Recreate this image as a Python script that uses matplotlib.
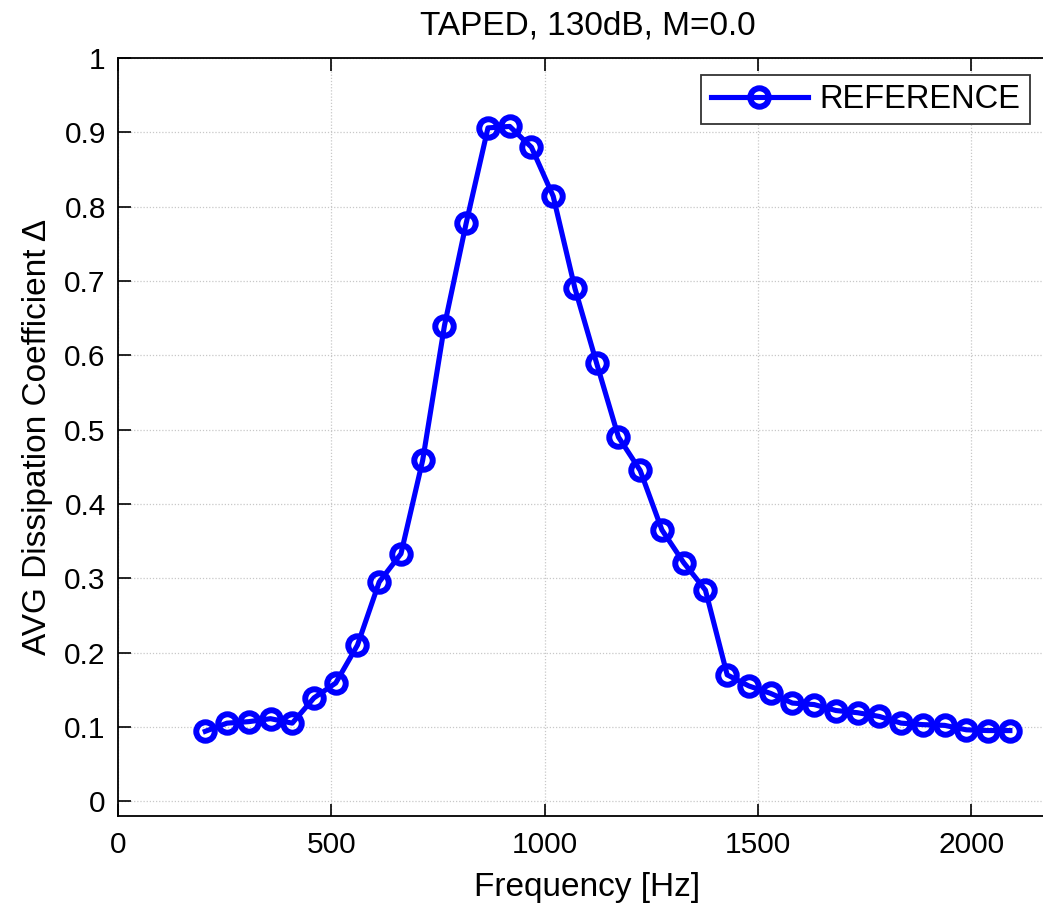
import matplotlib
matplotlib.use("Agg")
import matplotlib.pyplot as plt

freq = [204 + 51 * i for i in range(38)]
delta = [0.094, 0.105, 0.107, 0.111, 0.105, 0.139, 0.159, 0.210, 0.295, 0.333,
         0.459, 0.640, 0.778, 0.906, 0.908, 0.880, 0.814, 0.690, 0.589, 0.490,
         0.445, 0.365, 0.321, 0.284, 0.170, 0.155, 0.145, 0.132, 0.130, 0.122,
         0.119, 0.114, 0.105, 0.103, 0.102, 0.096, 0.095, 0.095]
xticks = [0, 500, 1000, 1500, 2000]
yticks = [0, 0.1, 0.2, 0.3, 0.4, 0.5, 0.6, 0.7, 0.8, 0.9, 1]
ytick_labels = ["0", "0.1", "0.2", "0.3", "0.4", "0.5", "0.6", "0.7", "0.8", "0.9", "1"]

plt.rcParams['font.family'] = ['Liberation Sans', 'DejaVu Sans']

fig = plt.figure(figsize=(10.43, 9.07), dpi=100)
# axes extend slightly past the right edge of the canvas (cropped like the reference)
ax = fig.add_axes([0.1134, 0.1003, 0.8994, 0.8357])

ax.plot(freq, delta, color='#0000ff', lw=3.7, marker='o', ms=13.3,
        mfc='none', mec='#0000ff', mew=4.3, label='REFERENCE')

ax.set_xlim(0, 2200)
ax.set_ylim(-0.02, 1)
ax.set_xticks(xticks)
ax.set_yticks(yticks)
ax.set_yticklabels(ytick_labels)
ax.tick_params(direction='in', length=9, width=1.2, labelsize=21.5,
               top=True, right=True)
ax.tick_params(axis='x', pad=11)
ax.tick_params(axis='y', pad=9)
ax.grid(True, color='#c8c8c8', linestyle=(0, (1, 1.5)), linewidth=0.9)
for s in ax.spines.values():
    s.set_linewidth(1.3)

ax.set_title('TAPED, 130dB, M=0.0', fontsize=24, pad=17)
ax.set_xlabel('Frequency [Hz]', fontsize=24, labelpad=9)
ax.set_ylabel('AVG Dissipation Coefficient Δ', fontsize=24, labelpad=8)

leg = ax.legend(loc='upper right', bbox_to_anchor=(0.9719, 0.9776),
                fontsize=23.5, fancybox=False, framealpha=1,
                edgecolor='#333333', borderaxespad=0, handlelength=3.0,
                handletextpad=0.35, borderpad=0.28)
leg.get_frame().set_linewidth(1.3)

fig.savefig('out.png', dpi=100)
